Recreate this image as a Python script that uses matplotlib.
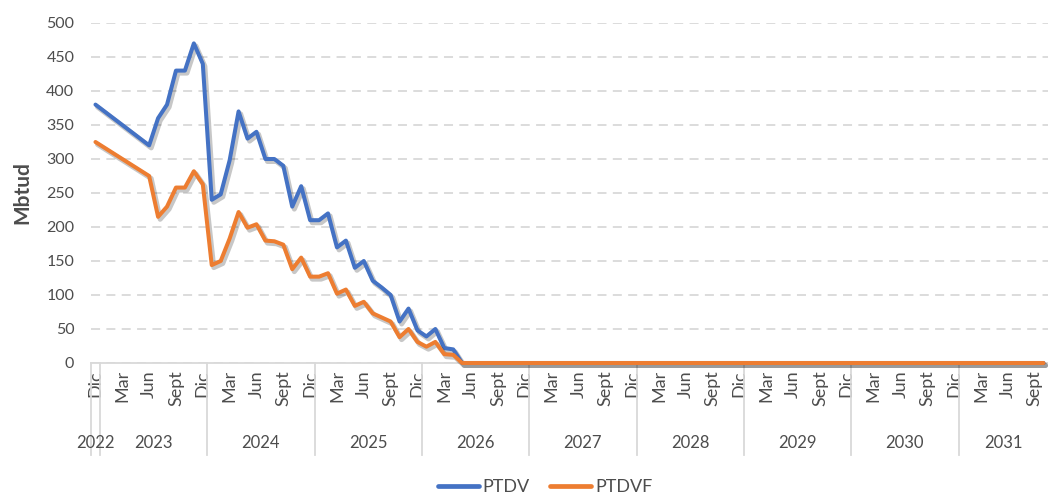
import matplotlib
matplotlib.use("Agg")
import matplotlib.pyplot as plt
import matplotlib.patheffects as pe
import matplotlib.transforms as mtransforms
import numpy as np
import pandas as pd

# ---- categories (monthly, Dic 2022 .. Oct 2031) ----
start_month = "2022-12"
end_month = "2031-10"
month_names = {12: "Dic", 3: "Mar", 6: "Jun", 9: "Sept"}

# ---- series values (Mbtud); None = no data point ----
ptdv = [380, None, None, None, None, None, 320, 360, 380, 430, 430, 470, 440,
        240, 248, 298, 370, 330, 340, 300, 300, 290, 230, 260, 210,
        210, 220, 170, 180, 140, 150, 121, 111, 100, 61, 80, 48,
        39, 50, 22, 20, 0, 0, 0, 0, 0, 0, 0, 0, 0, 0, 0, 0,
        0, 0, 0, 0, 0, 0, 0, 0, 0, 0, 0, 0,
        0, 0, 0, 0, 0, 0, 0, 0, 0, 0, 0, 0,
        0, 0, 0, 0, 0, 0, 0, 0, 0, 0, 0, 0,
        0, 0, 0, 0, 0, 0, 0, 0, 0, 0, 0, 0,
        0, 0, 0, 0, 0, 0]
ptdvf = [325, None, None, None, None, None, 275, 215, 230, 258, 258, 282, 263,
         144, 150, 183, 222, 199, 204, 180, 179, 174, 138, 155, 127,
         127, 132, 102, 108, 84, 90, 73, 67, 61, 38, 50, 31,
         24, 31, 13, 12, 0, 0, 0, 0, 0, 0, 0, 0, 0, 0, 0, 0,
         0, 0, 0, 0, 0, 0, 0, 0, 0, 0, 0, 0,
         0, 0, 0, 0, 0, 0, 0, 0, 0, 0, 0, 0,
         0, 0, 0, 0, 0, 0, 0, 0, 0, 0, 0, 0,
         0, 0, 0, 0, 0, 0, 0, 0, 0, 0, 0, 0,
         0, 0, 0, 0, 0, 0]
series_names = ["PTDV", "PTDVF"]
series_colors = ["#4472C4", "#ED7D31"]
yticks = [0, 50, 100, 150, 200, 250, 300, 350, 400, 450, 500]

periods = pd.period_range(start_month, end_month, freq="M")
n = len(periods)
x = np.arange(n)

TXT = "#4d4d4d"
FONT = ["Lato", "DejaVu Sans"]
plt.rcParams["font.family"] = FONT

fig = plt.figure(figsize=(10.48, 4.95), dpi=100)
ax = fig.add_axes([91 / 1048, 1 - 363 / 495, 1 - 91 / 1048, (363 - 23) / 495])

for vals, name, col in zip([ptdv, ptdvf], series_names, series_colors):
    arr = np.array([np.nan if v is None else v for v in vals], dtype=float)
    ok = ~np.isnan(arr)
    ax.plot(x[ok], arr[ok], color=col, lw=2.9, label=name, solid_joinstyle="round",
            solid_capstyle="round", zorder=3, clip_on=False,
            path_effects=[pe.SimpleLineShadow(offset=(1.5, -1.8), shadow_color="black",
                                              alpha=0.22, linewidth=3.6),
                          pe.Normal()])

ax.set_xlim(-0.5, n - 0.5)
ax.set_ylim(0, 500)
ax.set_yticks(yticks)
ax.set_yticklabels([str(v) for v in yticks], fontsize=11.5, color=TXT)
ax.yaxis.grid(True, color="#D9D9D9", lw=1.3, ls=(0, (5, 3.5)))
ax.set_axisbelow(True)
ax.tick_params(axis="y", length=0, pad=12)

# month ticks
tick_pos = [i for i, p in enumerate(periods) if p.month in month_names]
tick_lab = [month_names[periods[i].month] for i in tick_pos]
ax.set_xticks(tick_pos)
ax.set_xticklabels(tick_lab, rotation=90, fontsize=13, color=TXT)
ax.tick_params(axis="x", length=0, pad=5)

for s in ["left", "right", "top"]:
    ax.spines[s].set_visible(False)
ax.spines["bottom"].set_color("#D9D9D9")
ax.spines["bottom"].set_linewidth(1.3)

# year group separators and labels
trans = mtransforms.blended_transform_factory(ax.transData, ax.transAxes)
years = [p.year for p in periods]
bounds = [-0.5] + [i - 0.5 for i in range(1, n) if years[i] != years[i - 1]]
for b in bounds:
    ax.plot([b, b], [0, -0.27], color="#D9D9D9", lw=1.3, transform=trans, clip_on=False)
uniq = sorted(set(years))
for yv in uniq:
    idx = [i for i in range(n) if years[i] == yv]
    c = (idx[0] + idx[-1]) / 2
    ax.text(c, -0.235, str(yv), transform=trans, ha="center", va="center",
            fontsize=12, color=TXT)

ax.set_ylabel("Mbtud", fontsize=15, fontweight="bold", color=TXT, labelpad=10)

leg = fig.legend(loc="center", bbox_to_anchor=(0.52, 1 - 487 / 495), ncol=2,
                 frameon=False, handlelength=2.3, columnspacing=1.1,
                 handletextpad=0.2, prop={"size": 13})
for t in leg.get_texts():
    t.set_color(TXT)
for h in leg.get_lines():
    h.set_path_effects([])
    h.set_linewidth(3.4)

fig.savefig("out.png", dpi=100)
